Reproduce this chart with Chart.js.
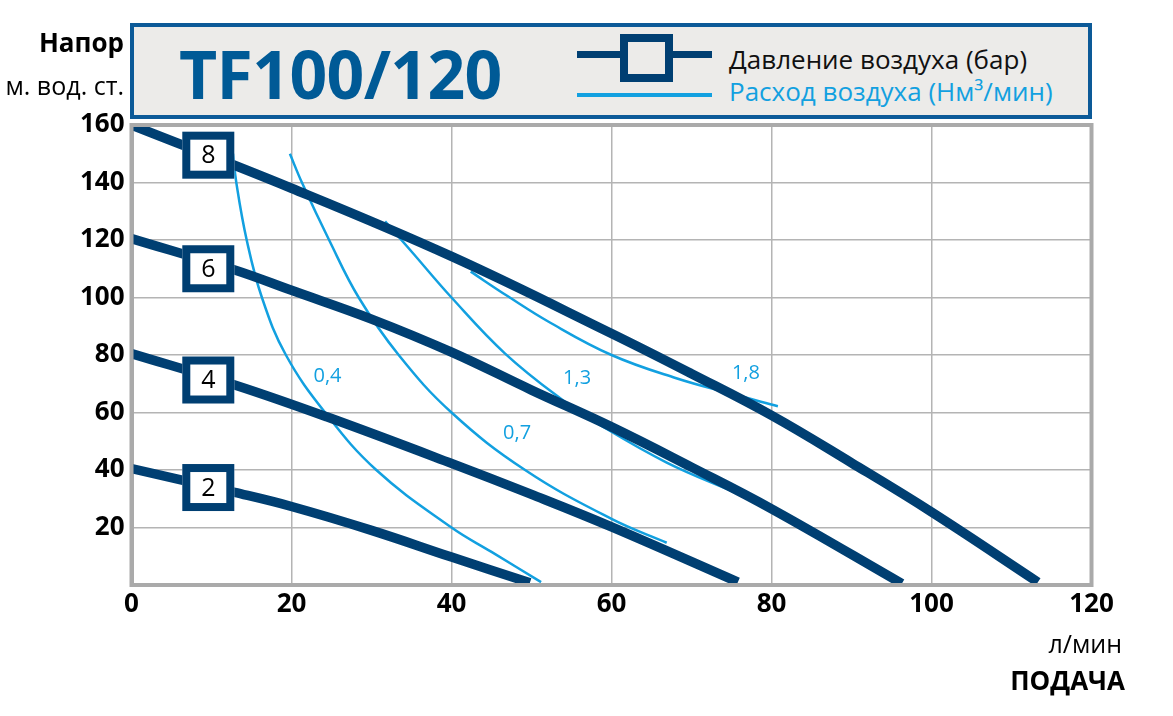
<!DOCTYPE html>
<html>
<head>
<meta charset="utf-8">
<script src="https://cdn.jsdelivr.net/npm/chart.js@4"></script>
<style>
  body { margin: 0; background: #fff; }
  #wrap { position: relative; width: 1173px; height: 716px; font-family: "Open Sans", sans-serif; }
  #c { position: absolute; left: 0; top: 0; }
  .t { position: absolute; line-height: 1; white-space: nowrap; }
  .hdr { position: absolute; left: 130px; top: 23px; width: 962px; height: 96px; box-sizing: border-box;
         border: 4px solid #0c5a98; background: #ecebe9; }
  .lg-dark { position: absolute; left: 577px; top: 51px; width: 135px; height: 7px; background: #003f72; }
  .lg-box { position: absolute; left: 620px; top: 34px; width: 53px; height: 48px; box-sizing: border-box;
            border: 8px solid #003f72; background: #ecebe9; }
  .lg-light { position: absolute; left: 577px; top: 93px; width: 135px; height: 4px; background: #12a0e0; }
</style>
</head>
<body>
<div id="wrap">
  <canvas id="c" width="1173" height="716"></canvas>
  <div class="hdr"></div>
  <div class="t" style="left:179px;top:40px;font-size:66px;font-weight:700;letter-spacing:-0.6px;color:#005a96;">TF100/120</div>
  <div class="lg-dark"></div>
  <div class="lg-box"></div>
  <div class="lg-light"></div>
  <div class="t" style="left:729px;top:46px;font-size:26px;color:#111;">Давление воздуха (бар)</div>
  <div class="t" style="left:729px;top:78px;font-size:26px;color:#12a0e0;">Расход воздуха (Нм³/мин)</div>
  <div class="t" style="right:1049px;top:29px;font-size:26px;font-weight:700;color:#000;">Напор</div>
  <div class="t" style="right:1049px;top:73px;font-size:25px;color:#000;">м. вод. ст.</div>
  <div class="t" style="right:51px;top:631px;font-size:25px;color:#000;">л/мин</div>
  <div class="t" style="right:48px;top:667px;font-size:26px;font-weight:700;color:#000;">ПОДАЧА</div>
</div>
<script>
// pressure curves (bar), x = л/мин, y = м. вод. ст.
const bar8 = [[0, 160], [20, 138], [40, 114.3], [60, 87.5], [70, 73.5], [80, 59], [90, 42.5], [100, 25.4], [113.3, 1]];
const bar6 = [[0, 120.5], [13, 109.5], [20, 102.5], [30, 92.5], [40, 81], [50, 67.8], [60, 55], [70, 41], [80, 26.5], [96.3, 0.5]];
const bar4 = [[0, 80.5], [13, 69.5], [24.4, 58.5], [40, 42.3], [50, 31.5], [60, 20.2], [75.8, 1]];
const bar2 = [[0, 40.5], [12.9, 32.2], [20, 27.3], [30, 19], [40, 9.7], [49.8, 0.8]];

// air consumption curves (Нм3/мин)
const air04 = [[12.7, 150], [13.1, 140], [14.4, 120], [16.3, 100], [19.3, 80], [24.2, 60], [30.6, 40], [40, 20], [45, 11.5], [51.2, 1]];
const air07 = [[19.8, 150], [21.3, 140], [24.7, 120], [28.4, 100], [33.4, 80], [40, 60], [49.2, 40], [60, 23], [66.9, 14.7]];
const air13 = [[31.7, 126.5], [35, 116], [40, 100], [46.7, 80.5], [53.8, 64.5], [58.6, 55.6], [66.9, 42.6], [75.8, 31.8]];
const air18 = [[42.4, 109], [47, 100.5], [52.3, 91.3], [60, 80], [68, 72], [75, 66.5], [80.8, 62.2]];

// marker boxes on the pressure curves
const barNames = ['8', '6', '4', '2'];
const barBoxX = [9.6, 9.6, 9.6, 9.6];
const barBoxY = [149.5, 110, 71.3, 33.9];

// air curve labels
const airNames = ['0,4', '0,7', '1,3', '1,8'];
const airLabelX = [24.5, 48.2, 55.7, 76.8];
const airLabelY = [72.6, 52.8, 71.9, 73.6];

const xTicks = [0, 20, 40, 60, 80, 100, 120];
const yTicks = [20, 40, 60, 80, 100, 120, 140, 160];

const DARK = '#003f72';
const LIGHT = '#12a0e0';

const toPts = arr => arr.map(p => ({ x: p[0], y: p[1] }));

function darkSet(arr) {
  return { data: toPts(arr), borderColor: DARK, borderWidth: 9.5, pointRadius: 0,
           tension: 0.4, order: 0, borderCapStyle: 'butt' };
}
function lightSet(arr) {
  return { data: toPts(arr), borderColor: LIGHT, borderWidth: 2.5, pointRadius: 0,
           tension: 0.4, order: 1 };
}

const decor = {
  id: 'decor',
  afterDatasetsDraw(chart) {
    const { ctx, chartArea: a, scales: { x, y } } = chart;
    ctx.save();
    // frame
    ctx.strokeStyle = '#aaaaaa';
    ctx.lineWidth = 4;
    ctx.strokeRect(a.left, a.top, a.right - a.left, a.bottom - a.top);
    // air labels
    ctx.fillStyle = LIGHT;
    ctx.font = '20px "Open Sans"';
    ctx.textAlign = 'center';
    ctx.textBaseline = 'middle';
    airNames.forEach((n, i) => ctx.fillText(n, x.getPixelForValue(airLabelX[i]), y.getPixelForValue(airLabelY[i])));
    // boxes
    barNames.forEach((n, i) => {
      const cx = x.getPixelForValue(barBoxX[i]);
      const cy = y.getPixelForValue(barBoxY[i]);
      ctx.fillStyle = '#fff';
      ctx.fillRect(cx - 26, cy - 23.5, 52, 47);
      ctx.strokeStyle = DARK;
      ctx.lineWidth = 8;
      ctx.strokeRect(cx - 22, cy - 19.5, 44, 39);
      ctx.fillStyle = '#000';
      ctx.font = '25px "Open Sans"';
      ctx.fillText(n, cx, cy + 1);
    });
    ctx.restore();
  }
};

new Chart(document.getElementById('c'), {
  type: 'line',
  data: {
    datasets: [
      darkSet(bar8), darkSet(bar6), darkSet(bar4), darkSet(bar2),
      lightSet(air04), lightSet(air07), lightSet(air13), lightSet(air18)
    ]
  },
  options: {
    responsive: false,
    devicePixelRatio: 1,
    animation: false,
    layout: { padding: { left: 0, top: 125, right: 81.5, bottom: 0 } },
    plugins: { legend: { display: false }, tooltip: { enabled: false } },
    scales: {
      x: {
        type: 'linear', min: 0, max: 120,
        afterBuildTicks: s => { s.ticks = xTicks.map(v => ({ value: v })); },
        afterFit: s => { s.height = 131; },
        ticks: { color: '#000', font: { family: 'Open Sans', size: 26, weight: 'bold' }, padding: 4 },
        grid: { color: '#b4b4b4', lineWidth: 1.5, drawTicks: false },
        border: { color: '#aaaaaa', width: 4 }
      },
      y: {
        type: 'linear', min: 0, max: 160,
        afterBuildTicks: s => { s.ticks = yTicks.map(v => ({ value: v })); },
        afterFit: s => { s.width = 131.5; },
        ticks: { color: '#000', font: { family: 'Open Sans', size: 26, weight: 'bold' }, padding: 7 },
        grid: { color: '#b4b4b4', lineWidth: 1.5, drawTicks: false },
        border: { color: '#aaaaaa', width: 4 }
      }
    }
  },
  plugins: [decor]
});
</script>
</body>
</html>
